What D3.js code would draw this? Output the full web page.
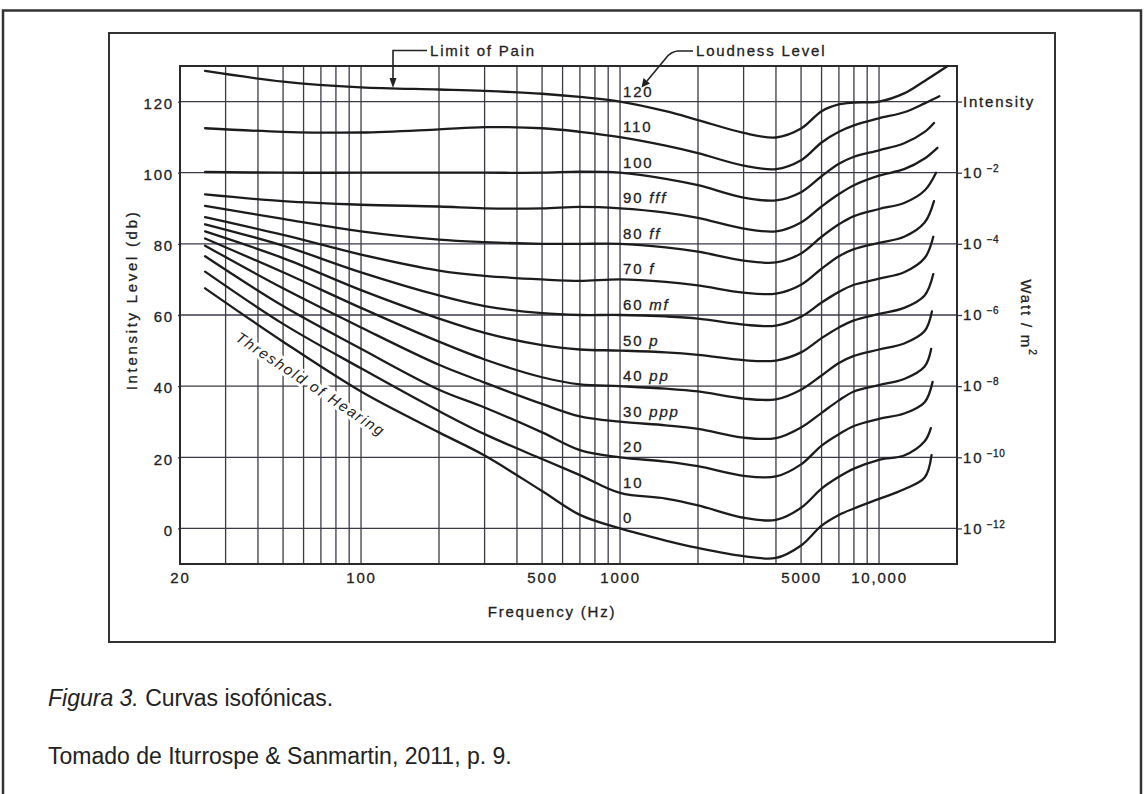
<!DOCTYPE html>
<html><head><meta charset="utf-8">
<script src="https://cdn.jsdelivr.net/npm/d3@7"></script>
<style>
html,body{margin:0;padding:0;background:#fff;}
svg{display:block;}
text{font-family:"Liberation Sans",Arial,Helvetica,sans-serif;fill:#222;}
text.ch{stroke:#222;stroke-width:0.3px;}
</style></head><body>
<svg id="chart" width="1146" height="794"></svg>
<script>
// ---------- DATA ----------
const freqs = [25,50,100,200,300,500,700,1000,1500,2000,3000,4000,5000,6000,7000,8000,10000,12500,15000];
const phon0   = [67.5,52.5,38.5,27.0,20.5,10.5,3.8,0,-3.4,-5.5,-7.8,-8.3,-4.8,0.8,3.8,5.6,8.3,11.0,14.3];
const phon10  = [72.2,57.5,45.0,33.0,26.5,19.5,15.0,10,8.4,6.5,3.0,2.4,5.8,11.2,14.5,16.8,19.3,20.5,24.5];
const phon20  = [76.5,62.5,50.5,39.0,34.0,27.0,22.0,20,18.8,17.5,14.8,14.6,18.0,23.3,26.5,28.8,30.8,32.3,35.5];
const phon30  = [79.5,67.5,56.5,46.0,41.0,35.0,31.5,30,29.0,28.0,25.5,25.4,28.4,32.5,36.0,38.5,40.3,42.0,45.5];
const phon40  = [81.5,72.0,62.0,52.5,47.5,42.5,40.5,40,39.3,38.5,36.5,36.3,39.0,43.0,46.5,48.5,50.3,52.0,55.5];
const phon50  = [83.5,76.0,67.0,59.0,55.0,51.5,50.3,50,49.5,48.8,47.3,47.2,49.5,53.5,56.5,58.5,60.3,62.0,65.5];
const phon60  = [85.5,79.5,72.0,65.5,62.5,60.5,60.0,60,59.6,59.0,57.3,57.0,59.5,63.5,66.5,68.5,70.2,72.0,76.0];
const phon70  = [87.5,82.5,77.0,72.5,71.0,70.0,69.6,70,69.3,68.3,66.3,66.0,68.5,73.0,76.5,78.5,80.3,82.0,86.0];
const phon80  = [90.7,87.0,83.5,81.2,80.5,80.0,80.0,80,79.0,77.8,75.3,74.8,77.3,82.0,85.5,87.8,89.8,91.5,95.0];
const phon90  = [93.9,92.0,91.0,90.5,90.0,90.0,90.4,90,88.8,87.3,84.3,83.5,86.0,90.5,94.0,96.5,99.2,101.0,104.0];
const phon100 = [100.2,100,100,100,100,100,100.3,100,98.3,96.5,93.0,92.2,94.5,99.0,102.5,104.5,106.3,108.3,111.5];
const phon110 = [112.5,111.5,111.3,112.2,112.8,112.5,111.5,110,107.6,105.5,102.0,101.0,103.5,108.5,111.5,113.3,115.3,117.0,119.5];
const phon120 = [128.6,125.6,124.0,123.4,123.0,122.2,121.3,120,117.3,114.8,111.2,109.9,112.4,117.3,119.2,119.7,120.0,122.3,125.8];
const endFreq = [15950,15850,16100,15900,16000,16200,16200,16300,16600,16800,16300,17100,18400];
const endDb   = [20.6,28.2,41.2,50.5,61.0,71.5,82.0,92.0,100.0,107.0,114.0,121.5,130.0];
const curveLevels = [0,10,20,30,40,50,60,70,80,90,100,110,120];
const curveNumbers = ["0","10","20","30","40","50","60","70","80","90","100","110","120"];
const curveMarks   = ["","","","ppp","pp","p","mf","f","ff","fff","","",""];
const yTicks = [0,20,40,60,80,100,120];
const yTickLabels = ["0","20","40","60","80","100","120"];
const rightExponents = ["\u221212","\u221210","\u22128","\u22126","\u22124","\u22122",""];
const xTickValues = [20,100,500,1000,5000,10000];
const xTickLabels = ["20","100","500","1000","5000","10,000"];
const gridFreqs = [30,40,50,60,70,80,90,100,200,300,400,500,600,700,800,900,1000,2000,3000,4000,5000,6000,7000,8000,9000,10000];

// ---------- SETUP ----------
const svg = d3.select("#chart");
const LS = "1.8px";
const x = d3.scaleLog().domain([20,20000]).range([180,957]);
const y = d3.scaleLinear().domain([-10,130]).range([564,66]);
const ink = "#222";
const gridCol = "#3b3b48";

// outer frame
svg.append("path").attr("d","M3,794 L3,10.5 L1141,10.5 L1141,794")
  .attr("fill","none").attr("stroke","#333").attr("stroke-width",2.5);
// inner frame
svg.append("rect").attr("x",109).attr("y",33).attr("width",946).attr("height",609)
  .attr("fill","none").attr("stroke","#333").attr("stroke-width",2);

const plot = svg.append("g");
plot.selectAll("line.vg").data(gridFreqs).join("line")
  .attr("x1",d=>x(d)).attr("x2",d=>x(d)).attr("y1",y(130)).attr("y2",y(-10))
  .attr("stroke",gridCol).attr("stroke-width",1.3);
plot.selectAll("line.hg").data(yTicks).join("line")
  .attr("x1",x(20)).attr("x2",x(20000)).attr("y1",d=>y(d)).attr("y2",d=>y(d))
  .attr("stroke",gridCol).attr("stroke-width",1.3);

// axes
const ax = svg.append("g").attr("transform",`translate(${x(20)},0)`)
  .call(d3.axisLeft(y).tickValues(yTicks).tickSize(2).tickPadding(4).tickFormat((d,i)=>yTickLabels[i]));
ax.select(".domain").remove();
ax.selectAll("line").attr("stroke",gridCol).attr("stroke-width",1.3);
ax.selectAll("text").attr("class","ch").attr("font-size",15).style("letter-spacing",LS).attr("fill",ink)
  .attr("font-family","Liberation Sans, Arial, sans-serif").attr("transform","translate(0,2)");

const bx = svg.append("g").attr("transform",`translate(0,${y(-10)})`)
  .call(d3.axisBottom(x).tickValues(xTickValues).tickSize(0).tickPadding(8).tickFormat((d,i)=>xTickLabels[i]));
bx.select(".domain").remove();
bx.selectAll("text").attr("class","ch").attr("font-size",15).style("letter-spacing",LS).attr("fill",ink)
  .attr("font-family","Liberation Sans, Arial, sans-serif");

const rx = svg.append("g").attr("transform",`translate(${x(20000)},0)`)
  .call(d3.axisRight(y).tickValues(yTicks).tickSize(5).tickFormat(""));
rx.select(".domain").remove();
rx.selectAll("line").attr("stroke",gridCol).attr("stroke-width",1.3);
yTicks.forEach((v,i)=>{
  const t = svg.append("text").attr("class","ch").attr("x",963).attr("y",y(v)).attr("dy","0.35em")
    .attr("font-size",15).style("letter-spacing",LS);
  if (rightExponents[i]==="") { t.text("Intensity"); }
  else {
    t.append("tspan").text("10");
    t.append("tspan").attr("font-size",10).attr("dy",-6).style("letter-spacing","0.6px").text(" "+rightExponents[i]);
  }
});

// plot frame
svg.append("rect").attr("x",x(20)).attr("y",y(130)).attr("width",x(20000)-x(20)).attr("height",y(-10)-y(130))
  .attr("fill","none").attr("stroke","#2a2a2a").attr("stroke-width",2);

// threshold label (with white halo breaking the grid)
const thX = x(64), thY = y(40.6);
svg.append("text").attr("transform",`translate(${thX},${thY}) rotate(33.5)`)
  .attr("text-anchor","middle").attr("dominant-baseline","central")
  .attr("font-size",15).attr("font-style","italic").style("letter-spacing",LS)
  .attr("stroke","#fff").attr("stroke-width",6).attr("paint-order","stroke")
  .text("Threshold of Hearing");

// curves
svg.append("clipPath").attr("id","clip").append("rect")
  .attr("x",x(20)).attr("y",y(130)-1).attr("width",x(20000)-x(20)).attr("height",y(-10)-y(130)+1);
const series = [phon0,phon10,phon20,phon30,phon40,phon50,phon60,phon70,phon80,phon90,phon100,phon110,phon120];
const line = d3.line().x(d=>x(d[0])).y(d=>y(d[1])).curve(d3.curveCatmullRom.alpha(0.5));
svg.append("g").attr("clip-path","url(#clip)").selectAll("path").data(series).join("path")
  .attr("d",(s,k)=>line(freqs.map((f,i)=>[f,s[i]]).concat([[endFreq[k],endDb[k]]])))
  .attr("fill","none").attr("stroke","#1c1c1c").attr("stroke-width",2.3)
  .attr("stroke-linecap","round").attr("stroke-linejoin","round");

// curve labels at 1000 Hz
curveLevels.forEach((lv,i)=>{
  const t = svg.append("text").attr("class","ch").attr("x",x(1000)+3).attr("y",y(lv)-5)
    .attr("font-size",15).style("letter-spacing",LS);
  t.append("tspan").text(curveNumbers[i]);
  if (curveMarks[i]) t.append("tspan").attr("font-style","italic").text(" "+curveMarks[i]);
});

// axis titles
svg.append("text").attr("class","ch").attr("transform",`translate(131,300) rotate(-90)`).attr("text-anchor","middle")
  .attr("dominant-baseline","central").attr("font-size",15).style("letter-spacing","2.7px").text("Intensity Level (db)");
svg.append("text").attr("class","ch").attr("x",552).attr("y",617).attr("text-anchor","middle")
  .attr("font-size",15).style("letter-spacing",LS).text("Frequency (Hz)");
const wt = svg.append("text").attr("class","ch").attr("transform",`translate(1027,318) rotate(90)`).attr("text-anchor","middle")
  .attr("dominant-baseline","central").attr("font-size",15).style("letter-spacing",LS);
wt.append("tspan").text("Watt / m");
wt.append("tspan").attr("font-size",10).attr("dy",-6).text("2");

// annotations
svg.append("text").attr("class","ch").attr("x",430).attr("y",56).attr("font-size",15).style("letter-spacing",LS).text("Limit of Pain");
svg.append("path").attr("d","M427,50.5 L393,50.5 L393,80").attr("fill","none").attr("stroke",ink).attr("stroke-width",1.6);
svg.append("path").attr("d","M389.5,78 L396.5,78 L393,88 Z").attr("fill",ink);

svg.append("text").attr("class","ch").attr("x",696).attr("y",56).attr("font-size",15).style("letter-spacing",LS).text("Loudness Level");
svg.append("path").attr("d","M693,51 L678,51 Q671,51.5 666,58 L647,81").attr("fill","none").attr("stroke",ink).attr("stroke-width",1.6);
svg.append("path").attr("d","M643.5,78 L650,83.5 L641.5,87.5 Z").attr("fill",ink);

// caption
const cap1 = svg.append("text").attr("x",48).attr("y",706).attr("font-size",23).attr("fill","#111");
cap1.append("tspan").attr("font-style","italic").text("Figura 3.");
cap1.append("tspan").text(" Curvas isofónicas.");
svg.append("text").attr("x",48).attr("y",764).attr("font-size",23).attr("fill","#111").text("Tomado de Iturrospe & Sanmartin, 2011, p. 9.");
</script>
</body></html>
